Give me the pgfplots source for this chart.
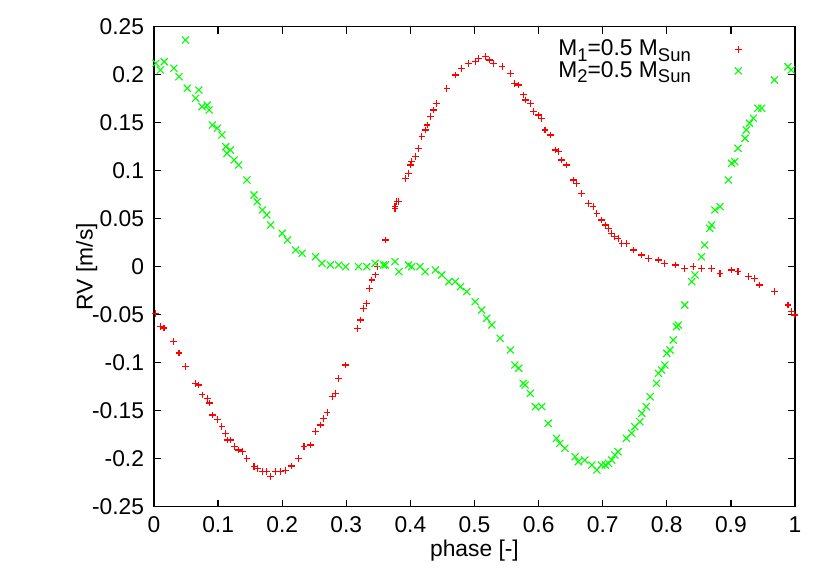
\documentclass[border=0pt]{standalone}
\usepackage{fontspec}
\setmainfont{Liberation Sans}
\usepackage{pgfplots}
\pgfplotsset{compat=1.18}
\usetikzlibrary{calc}

\newcommand{\sub}[1]{\raisebox{-0.23em}{\fontsize{9.2}{9}\selectfont #1}}

% radial velocity curves, phase folded
\pgfplotstableread{
phase rv
0.0026 -0.0485
0.010 -0.0625
0.0156 -0.0639
0.031 -0.0781
0.039 -0.0899
0.049 -0.1042
0.065 -0.1215
0.070 -0.1232
0.075 -0.1336
0.083 -0.1371
0.086 -0.1420
0.091 -0.1545
0.099 -0.1590
0.106 -0.1667
0.112 -0.1735
0.114 -0.1805
0.119 -0.1805
0.125 -0.1875
0.132 -0.1909
0.138 -0.1927
0.145 -0.1996
0.156 -0.2083
0.161 -0.2100
0.169 -0.2135
0.176 -0.2135
0.182 -0.2188
0.190 -0.2135
0.197 -0.2135
0.205 -0.2125
0.215 -0.2076
0.226 -0.1996
0.234 -0.1875
0.244 -0.1857
0.252 -0.1719
0.260 -0.1649
0.265 -0.1579
0.270 -0.1521
0.278 -0.1354
0.283 -0.1319
0.288 -0.1163
0.299 -0.1024
0.317 -0.0642
0.322 -0.0555
0.327 -0.0433
0.332 -0.0381
0.336 -0.0225
0.340 -0.0139
0.345 -0.0086
0.348 0.0000
0.361 0.0278
0.376 0.0625
0.379 0.0677
0.376 0.0608
0.382 0.0677
0.392 0.0921
0.397 0.0973
0.400 0.1059
0.402 0.1094
0.408 0.1146
0.413 0.1233
0.418 0.1354
0.423 0.1424
0.426 0.1476
0.431 0.1563
0.436 0.1632
0.441 0.1702
0.457 0.1858
0.470 0.1997
0.480 0.2067
0.491 0.2119
0.501 0.2135
0.506 0.2171
0.517 0.2188
0.524 0.2153
0.530 0.2119
0.543 0.2083
0.556 0.2015
0.563 0.1910
0.569 0.1893
0.576 0.1789
0.579 0.1736
0.587 0.1702
0.592 0.1615
0.600 0.1580
0.605 0.1546
0.610 0.1424
0.618 0.1372
0.626 0.1216
0.631 0.1198
0.636 0.1111
0.644 0.1059
0.654 0.0903
0.659 0.0869
0.667 0.0765
0.678 0.0660
0.685 0.0625
0.691 0.0556
0.698 0.0486
0.704 0.0434
0.709 0.0400
0.714 0.0348
0.719 0.0313
0.724 0.0296
0.730 0.0244
0.737 0.0244
0.748 0.0174
0.761 0.0122
0.771 0.0088
0.787 0.0070
0.797 0.0035
0.813 0.0018
0.828 -0.0017
0.841 0.0000
0.854 -0.0017
0.870 -0.0017
0.883 -0.0069
0.901 -0.0034
0.911 -0.0052
0.927 -0.0104
0.937 -0.0121
0.945 -0.0191
0.968 -0.0260
0.989 -0.0399
0.994 -0.0469
0.999 -0.0503
}\starone

\pgfplotstableread{
phase rv
0.049 0.2361
0.003 0.2119
0.010 0.2049
0.016 0.2135
0.031 0.2067
0.039 0.1979
0.052 0.1858
0.065 0.1754
0.070 0.1841
0.075 0.1667
0.083 0.1684
0.086 0.1632
0.091 0.1476
0.099 0.1442
0.106 0.1372
0.112 0.1250
0.114 0.1181
0.119 0.1216
0.125 0.1111
0.132 0.1059
0.145 0.0903
0.156 0.0747
0.161 0.0677
0.169 0.0591
0.176 0.0539
0.182 0.0434
0.200 0.0348
0.208 0.0278
0.221 0.0174
0.231 0.0140
0.252 0.0104
0.262 0.0035
0.275 0.0018
0.288 0.0018
0.299 0.0000
0.319 0.0000
0.332 0.0000
0.345 0.0035
0.358 0.0018
0.361 0.0018
0.376 0.0052
0.382 -0.0052
0.397 0.0018
0.402 0.0000
0.415 0.0000
0.423 -0.0052
0.439 -0.0034
0.449 -0.0086
0.460 -0.0156
0.470 -0.0156
0.478 -0.0208
0.488 -0.0260
0.501 -0.0365
0.511 -0.0451
0.519 -0.0538
0.527 -0.0607
0.540 -0.0746
0.556 -0.0868
0.563 -0.1024
0.569 -0.1058
0.576 -0.1215
0.579 -0.1232
0.587 -0.1319
0.595 -0.1458
0.605 -0.1458
0.615 -0.1631
0.628 -0.1788
0.633 -0.1840
0.641 -0.1892
0.657 -0.1979
0.662 -0.2031
0.672 -0.2014
0.683 -0.2066
0.691 -0.2118
0.698 -0.2066
0.704 -0.2066
0.709 -0.2048
0.714 -0.2014
0.719 -0.1961
0.724 -0.1927
0.737 -0.1788
0.745 -0.1735
0.750 -0.1667
0.758 -0.1615
0.761 -0.1527
0.768 -0.1458
0.774 -0.1354
0.784 -0.1215
0.787 -0.1110
0.792 -0.1076
0.797 -0.1024
0.800 -0.0902
0.805 -0.0868
0.810 -0.0764
0.815 -0.0625
0.818 -0.0607
0.828 -0.0399
0.839 -0.0156
0.844 -0.0086
0.854 0.0104
0.859 0.0226
0.867 0.0400
0.870 0.0434
0.875 0.0591
0.883 0.0625
0.896 0.0903
0.901 0.1077
0.906 0.1094
0.911 0.1233
0.922 0.1338
0.924 0.1424
0.929 0.1494
0.935 0.1546
0.942 0.1650
0.948 0.1650
0.968 0.1945
0.989 0.2083
0.994 0.2049
}\startwo

\begin{document}
\fontsize{11.4}{13.5}\selectfont
\begin{tikzpicture}
\begin{axis}[
    name=ax,
    scale only axis,
    width=320.5pt, height=240pt,
    xmin=0, xmax=1, ymin=-0.25, ymax=0.25,
    xtick={0,0.1,...,1},
    xticklabels={0,0.1,0.2,0.3,0.4,0.5,0.6,0.7,0.8,0.9,1},
    ytick={-0.25,-0.2,...,0.26},
    yticklabels={-0.25,-0.2,-0.15,-0.1,-0.05,0,0.05,0.1,0.15,0.2,0.25},
    xticklabel style={yshift=-1pt},
    yticklabel style={xshift=-1pt},
    tick align=inside,
    major tick length=3.5pt,
    axis line style={line width=0.6pt},
    tick style={line width=0.6pt, black},
    xlabel={phase [-]},
    ylabel={RV [m/s]},
    xlabel style={at={(axis description cs:0.5,-0.092)}, anchor=center},
    ylabel style={at={(axis description cs:-0.105,0.5)}, anchor=center},
    legend cell align=right,
    legend plot pos=right,
    legend style={draw=none, fill=none, at={(rel axis cs:0.927,0.99)},
        anchor=north east, row sep=-3pt, /tikz/column sep=20pt,
        nodes={inner sep=2pt}},
]
\addplot[only marks, mark=+, mark size=1.7pt, red,
    mark options={draw=red, line width=0.55pt}]
    table[x=phase, y=rv] {\starone};
\addlegendentry{M\sub{1}=0.5 M\sub{Sun}}
\addplot[only marks, mark=x, mark size=2.5pt, green,
    mark options={draw=green, line width=0.55pt}]
    table[x=phase, y=rv] {\startwo};
\addlegendentry{M\sub{2}=0.5 M\sub{Sun}}
\end{axis}
\pgfresetboundingbox
\path ($(ax.south west)+(-77pt,-37.15pt)$) rectangle ($(ax.north east)+(17.5pt,13.35pt)$);
\end{tikzpicture}
\end{document}
